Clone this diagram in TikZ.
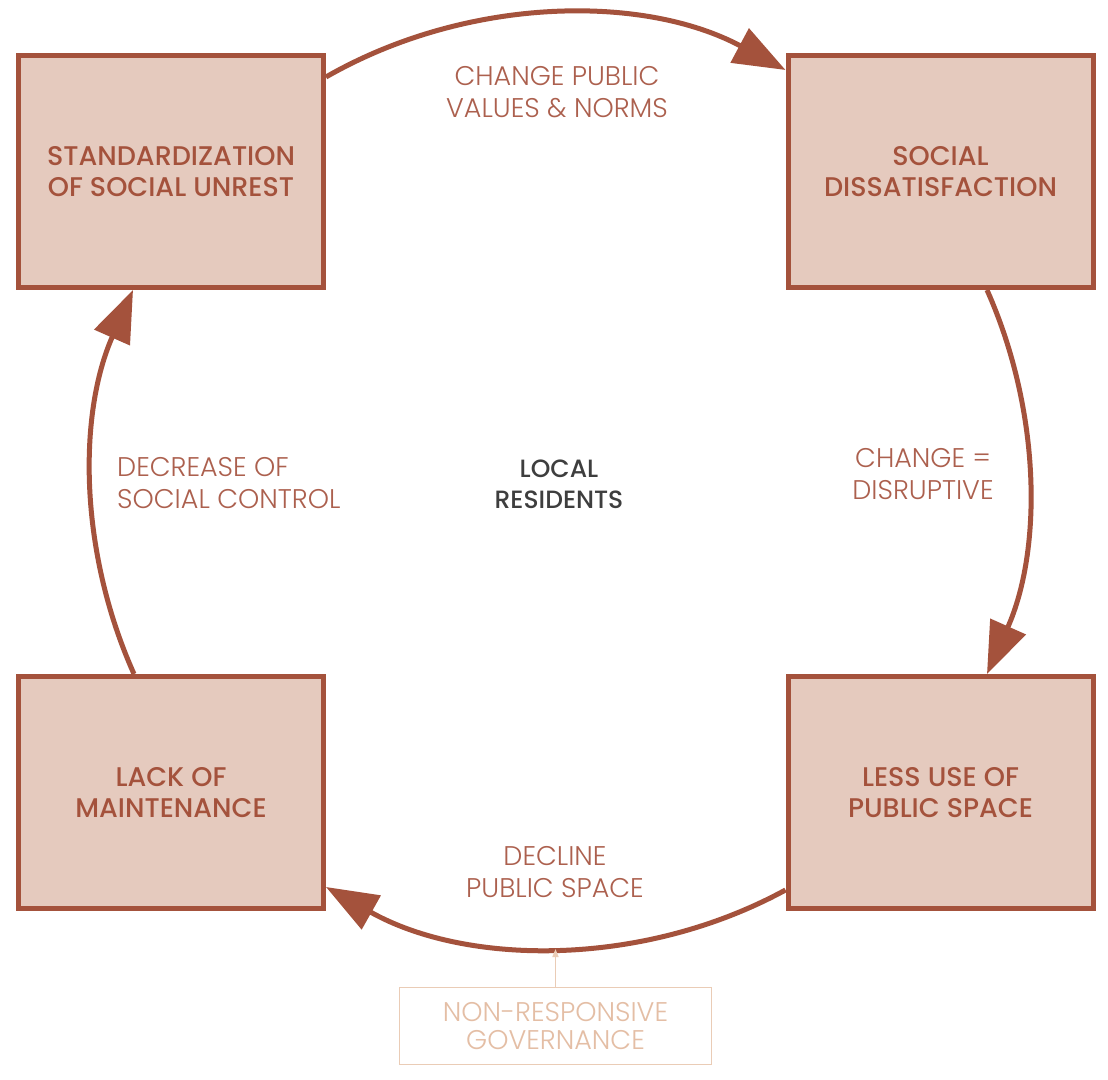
\documentclass[tikz,border=0pt]{standalone}
\usepackage{fontspec}
\setmainfont{Poppins}
\newfontfamily\boxfont{Poppins Medium}
\newfontfamily\lblfont{Poppins Light}
\usetikzlibrary{arrows.meta}
\definecolor{rust}{RGB}{164,82,60}
\definecolor{boxfill}{RGB}{229,202,190}
\definecolor{lbltext}{RGB}{172,96,78}
\definecolor{centertext}{RGB}{62,62,62}
\definecolor{govline}{RGB}{234,204,182}
\definecolor{govtext}{RGB}{228,190,165}
\begin{document}
\begin{tikzpicture}[x=1pt,y=1pt,
  stagebox/.style={draw=rust, fill=boxfill, line width=5pt, minimum width=305pt, minimum height=232pt,
    align=center, text=rust, font=\boxfont\fontsize{27}{31}\selectfont, inner sep=0pt},
  cyclelabel/.style={text=lbltext, font=\lblfont\fontsize{27}{32}\selectfont, inner sep=0pt},
  cyclearrow/.style={draw=rust, line width=5pt, -{Triangle[length=52pt,width=38pt]}, looseness=0.9},
  govbox/.style={draw=govline, line width=1.5pt, minimum width=312pt, minimum height=77pt,
    align=center, text=govtext, font=\lblfont\fontsize{27}{28}\selectfont, inner sep=0pt}
]
\useasboundingbox (0,0) rectangle (1108,1079);
\fill[white] (0,0) rectangle (1108,1079);

\node[stagebox] (tl) at (171,907.5) {STANDARDIZATION\\OF SOCIAL UNREST};
\node[stagebox] (tr) at (940.5,907.5) {SOCIAL\\DISSATISFACTION};
\node[stagebox] (bl) at (171,286.5) {LACK OF\\MAINTENANCE};
\node[stagebox] (br) at (940.5,286.5) {LESS USE OF\\PUBLIC SPACE};

\draw[cyclearrow] ([yshift=94.5pt]tl.east) to[bend left=29] ([yshift=101.5pt]tr.west);
\draw[cyclearrow] ([xshift=46.5pt]tr.south) to[bend left=24] ([xshift=46.5pt]br.north);
\draw[cyclearrow] ([yshift=-97.5pt]br.west) to[bend left=29] ([yshift=-94.5pt]bl.east);
\draw[cyclearrow] ([xshift=-37pt]bl.north) to[bend left=24] ([xshift=-38pt]tl.south);

\node[cyclelabel, align=center] (l1) at (557,987) {CHANGE PUBLIC\\VALUES \& NORMS};
\node[cyclelabel, align=center] (l2) at (923,605) {CHANGE =\\DISRUPTIVE};
\node[cyclelabel, align=center] (l3) at (555,206.5) {DECLINE\\PUBLIC SPACE};
\node[cyclelabel, align=left, anchor=west] (l4) at (117,596) {DECREASE OF\\SOCIAL CONTROL};

\node[align=center, text=centertext, font=\boxfont\fontsize{25}{31}\selectfont, inner sep=0pt] (center) at (559,595) {LOCAL\\RESIDENTS};

\node[govbox] (gov) at (555.5,53) {NON-RESPONSIVE\\GOVERNANCE};
\coordinate (govtip) at (555.5,130);
\draw[govline, line width=1.5pt, -{Triangle[length=8pt,width=6pt]}] (gov.north) -- (govtip);
\end{tikzpicture}
\end{document}
